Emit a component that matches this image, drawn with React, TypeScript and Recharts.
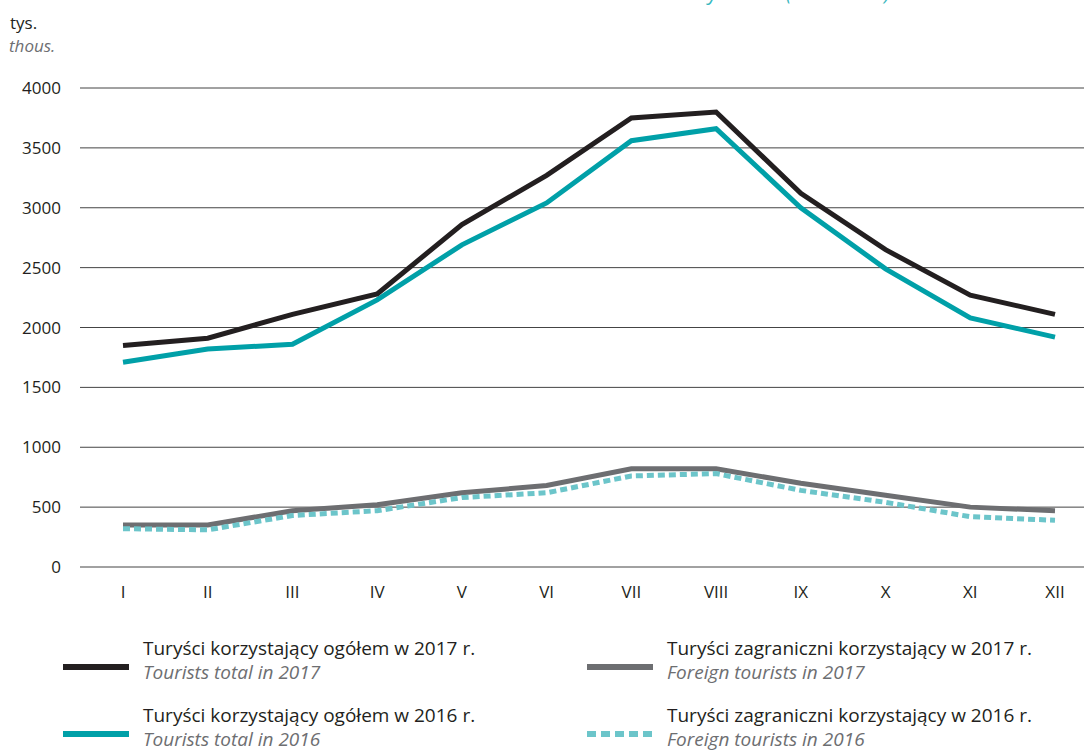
import { LineChart, Line, XAxis, YAxis, CartesianGrid } from 'recharts';

const months = ['I', 'II', 'III', 'IV', 'V', 'VI', 'VII', 'VIII', 'IX', 'X', 'XI', 'XII'];
const total2017 = [1850, 1910, 2110, 2280, 2860, 3270, 3750, 3800, 3120, 2650, 2270, 2110];
const total2016 = [1710, 1820, 1860, 2230, 2690, 3040, 3560, 3660, 3000, 2490, 2080, 1920];
const foreign2017 = [350, 350, 470, 520, 620, 680, 820, 820, 700, 600, 500, 470];
const foreign2016 = [320, 310, 430, 470, 580, 620, 760, 780, 640, 540, 420, 390];
const yTicks = [0, 500, 1000, 1500, 2000, 2500, 3000, 3500, 4000];

const data = months.map((m, i) => ({
  month: m,
  total2017: total2017[i],
  total2016: total2016[i],
  foreign2017: foreign2017[i],
  foreign2016: foreign2016[i],
}));

const BLACK = '#231f20';
const TEAL = '#00a0a8';
const GREY = '#6d6e71';
const LIGHT_TEAL = '#6cc5ca';

const font = '"Open Sans", sans-serif';

const LegendItem = ({ left, top, color, dashed, pl, en }: any) => (
  <div style={{ position: 'absolute', left, top, display: 'flex', alignItems: 'center' }}>
    <svg width={66} height={8} style={{ marginRight: 14, marginTop: 14 }}>
      <line
        x1={0}
        y1={4}
        x2={66}
        y2={4}
        stroke={color}
        strokeWidth={6}
        strokeDasharray={dashed ? '9 5' : undefined}
      />
    </svg>
    <div style={{ lineHeight: '24px' }}>
      <div style={{ fontSize: 19, color: '#231f20' }}>{pl}</div>
      <div style={{ fontSize: 19, color: '#6d6e71', fontStyle: 'italic' }}>{en}</div>
    </div>
  </div>
);

export default function App() {
  return (
    <div
      style={{
        position: 'absolute',
        left: 0,
        top: 0,
        width: 1084,
        height: 752,
        overflow: 'hidden',
        background: '#fff',
        fontFamily: font,
      }}
    >
      {/* title is cropped at the top edge in the source */}
      <div
        style={{
          position: 'absolute',
          right: 1084 - 890,
          top: -17,
          fontSize: 20,
          lineHeight: '20px',
          fontStyle: 'italic',
          color: '#3bb8c0',
          whiteSpace: 'nowrap',
        }}
      >
        Tourists accommodated by month (thousands)
      </div>
      <div style={{ position: 'absolute', left: 10, top: 12, fontSize: 17, lineHeight: '22px', color: '#231f20' }}>
        tys.
      </div>
      <div
        style={{
          position: 'absolute',
          left: 9,
          top: 35,
          fontSize: 17,
          lineHeight: '22px',
          color: '#6d6e71',
          fontStyle: 'italic',
        }}
      >
        thous.
      </div>

      <LineChart width={1084} height={620} data={data} margin={{ top: 88, right: 0, bottom: 23, left: 0 }}>
        <CartesianGrid vertical={false} stroke="#444" strokeWidth={1} />
        <XAxis
          dataKey="month"
          axisLine={false}
          tickLine={false}
          tickSize={0}
          tickMargin={19}
          height={30}
          padding={{ left: 43, right: 29 }}
          tick={{ fill: '#231f20', fontSize: 17, fontFamily: font }}
          interval={0}
        />
        <YAxis
          width={80}
          domain={[0, 4000]}
          ticks={yTicks}
          axisLine={false}
          tickLine={false}
          tickSize={0}
          tickMargin={19}
          tick={{ fill: '#231f20', fontSize: 17, fontFamily: font }}
        />
        <Line dataKey="foreign2017" stroke={GREY} strokeWidth={5} dot={false} isAnimationActive={false} />
        <Line
          dataKey="foreign2016"
          stroke={LIGHT_TEAL}
          strokeWidth={5}
          strokeDasharray="7 4"
          dot={false}
          isAnimationActive={false}
        />
        <Line dataKey="total2016" stroke={TEAL} strokeWidth={5} dot={false} isAnimationActive={false} />
        <Line dataKey="total2017" stroke={BLACK} strokeWidth={5} dot={false} isAnimationActive={false} />
      </LineChart>

      <LegendItem left={63} top={636} color={BLACK} pl="Turyści korzystający ogółem w 2017 r." en="Tourists total in 2017" />
      <LegendItem left={63} top={703} color={TEAL} pl="Turyści korzystający ogółem w 2016 r." en="Tourists total in 2016" />
      <LegendItem left={587} top={636} color={GREY} pl="Turyści zagraniczni korzystający w 2017 r." en="Foreign tourists in 2017" />
      <LegendItem left={587} top={703} color={LIGHT_TEAL} dashed pl="Turyści zagraniczni korzystający w 2016 r." en="Foreign tourists in 2016" />
    </div>
  );
}
